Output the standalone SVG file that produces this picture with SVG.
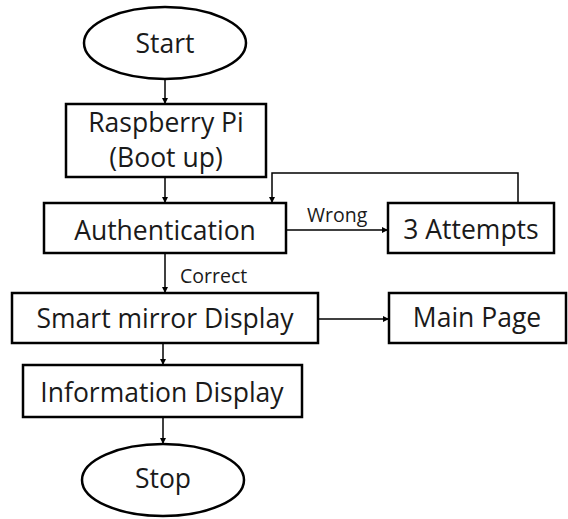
<svg xmlns="http://www.w3.org/2000/svg" width="568" height="519" viewBox="0 0 568 519">
<style>
.shape{fill:#fff;stroke:#000;stroke-width:2.5}
.t{font-family:"Open Sans","Liberation Sans",sans-serif;font-size:26.5px;fill:#1a1a1a;text-anchor:middle}
.lbl{font-family:"Open Sans","Liberation Sans",sans-serif;font-size:19.5px;fill:#1a1a1a}
.c{fill:none;stroke:#000;stroke-width:1.5}
</style>
<defs>
<marker id="arr" viewBox="0 0 10 10" refX="10" refY="5" markerWidth="6" markerHeight="6" orient="auto" markerUnits="userSpaceOnUse">
<path d="M0,0 L10,5 L0,10 z" fill="#000"/>
</marker>
</defs>
<g id="connectors">
<line class="c" x1="165" y1="80" x2="165" y2="104" marker-end="url(#arr)"/>
<line class="c" x1="165" y1="177" x2="165" y2="203" marker-end="url(#arr)"/>
<line class="c" x1="286" y1="230" x2="388" y2="230" marker-end="url(#arr)"/>
<polyline class="c" points="518,203 518,173 272,173 272,203" marker-end="url(#arr)"/>
<line class="c" x1="165" y1="253" x2="165" y2="293" marker-end="url(#arr)"/>
<line class="c" x1="318" y1="319" x2="389" y2="319" marker-end="url(#arr)"/>
<line class="c" x1="163" y1="343" x2="163" y2="365" marker-end="url(#arr)"/>
<line class="c" x1="163" y1="417" x2="163" y2="444" marker-end="url(#arr)"/>
<text class="lbl" x="307" y="222">Wrong</text>
<text class="lbl" x="180" y="283">Correct</text>
</g>
<g id="start"><ellipse class="shape" cx="165" cy="43" rx="81" ry="36"/><text class="t" x="165" y="53">Start</text></g>
<g id="raspberry"><rect class="shape" x="66" y="104" width="200" height="73"/><text class="t" x="166" y="132">Raspberry Pi</text><text class="t" x="166" y="167">(Boot up)</text></g>
<g id="auth"><rect class="shape" x="44" y="203" width="242" height="50"/><text class="t" x="165" y="240">Authentication</text></g>
<g id="attempts"><rect class="shape" x="388" y="203" width="166" height="50"/><text class="t" x="471" y="239">3 Attempts</text></g>
<g id="smart"><rect class="shape" x="12" y="293" width="306" height="50"/><text class="t" x="165" y="328">Smart mirror Display</text></g>
<g id="main"><rect class="shape" x="389" y="293" width="177" height="50"/><text class="t" x="477" y="327">Main Page</text></g>
<g id="info"><rect class="shape" x="23" y="365" width="279" height="52"/><text class="t" x="162" y="402">Information Display</text></g>
<g id="stop"><ellipse class="shape" cx="163" cy="480" rx="81" ry="36"/><text class="t" x="163" y="488">Stop</text></g>
</svg>
